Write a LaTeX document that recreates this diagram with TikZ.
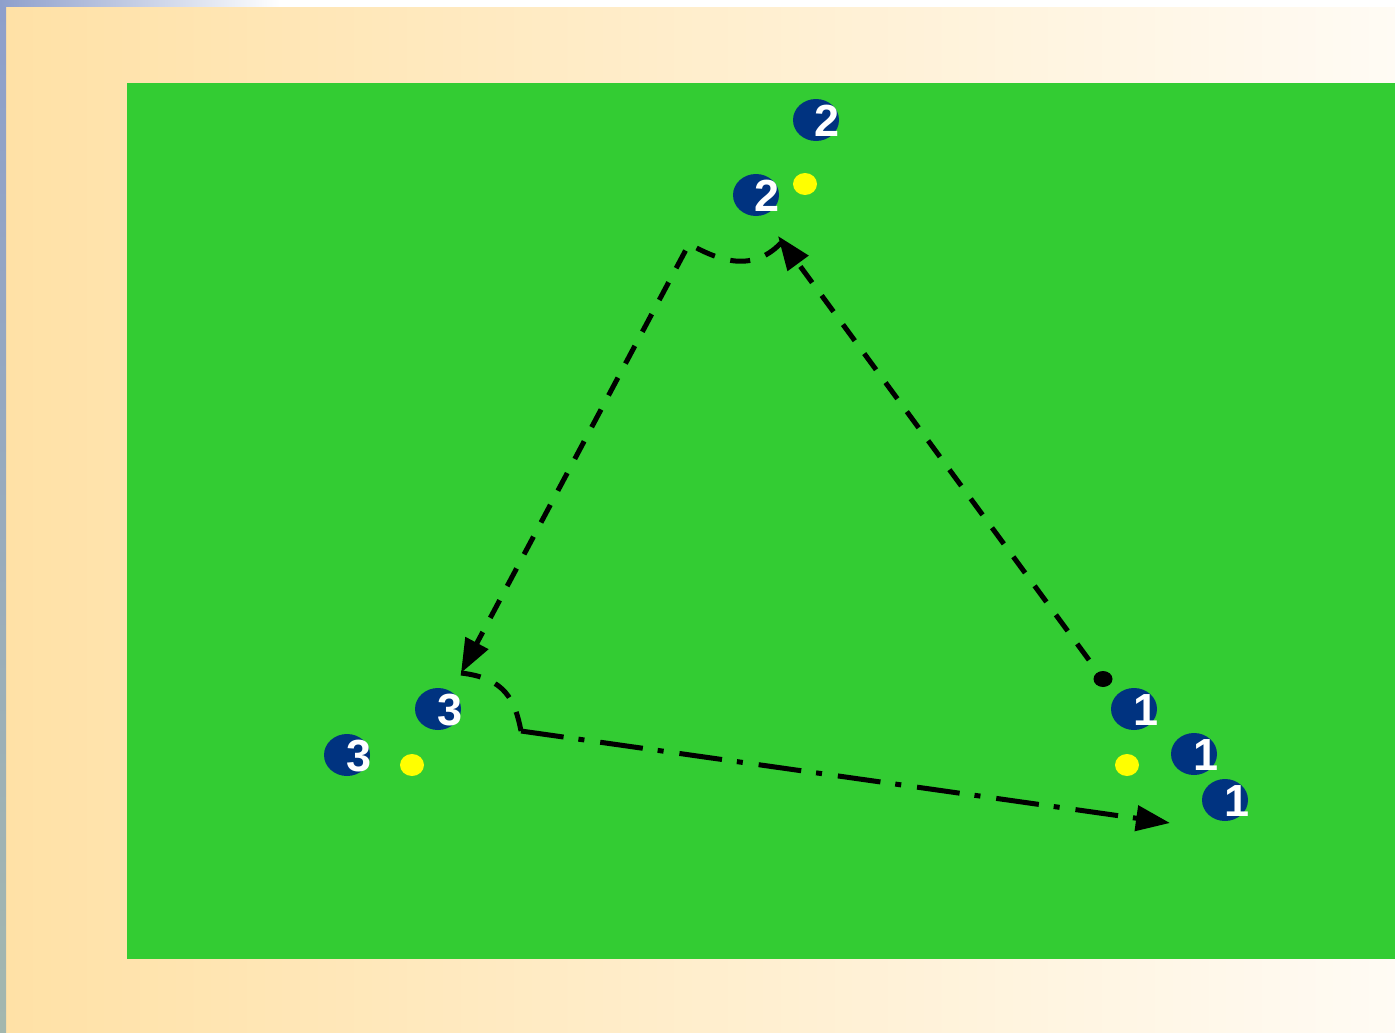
\documentclass[tikz,border=0pt]{standalone}
\usepackage{fontspec}
\setmainfont{Liberation Sans}
\usetikzlibrary{arrows.meta,shapes.geometric}
\definecolor{pitch}{HTML}{33CC33}
\definecolor{navy}{HTML}{003380}
\definecolor{ball}{HTML}{FFFF00}
\definecolor{sandL}{HTML}{FFE1A6}
\definecolor{sandR}{HTML}{FFFBF4}
\definecolor{edgeT}{HTML}{8E9FCB}
\definecolor{edgeB}{HTML}{A3B7AE}
\tikzset{
  player/.style={ellipse,fill=navy,inner sep=0pt,minimum width=46pt,minimum height=42pt},
  num/.style={text=white,font=\fontsize{45}{45}\selectfont\bfseries,inner sep=0pt},
  ballnode/.style={ellipse,fill=ball,inner sep=0pt,minimum width=24pt,minimum height=22pt},
  conedot/.style={ellipse,fill=black,inner sep=0pt,minimum width=19pt,minimum height=16pt},
  dashln/.style={line width=5pt,dash pattern=on 20pt off 16pt},
  dashdotln/.style={line width=5pt,dash pattern=on 43pt off 15pt on 6pt off 16pt},
  tip/.style={-{Triangle[length=34pt,width=25pt]}}
}
\begin{document}
\begin{tikzpicture}[x=1pt,y=-1pt]
\useasboundingbox (0,0) rectangle (1395,1033);
% background
\shade[left color=sandL,right color=sandR] (6,7) rectangle (1395,1033);
\shade[top color=edgeT,bottom color=edgeB] (0,0) rectangle (6,1033);
\fill[white] (280,0) rectangle (1395,7);
\shade[left color=edgeT,right color=white] (0,0) rectangle (280,7);
% pitch
\fill[pitch] (127,83) rectangle (1395,959);
% players
\node[player] (p2a) at (816,120) {};
\node[num] (n2a) at (827,121) {2};
\node[player] (p2b) at (756,195) {};
\node[num] (n2b) at (767,196) {2};
\node[ballnode] (b2) at (805,184) {};
\node[player] (p3a) at (438,709) {};
\node[num] (n3a) at (450,710) {3};
\node[player] (p3b) at (347,755) {};
\node[num] (n3b) at (359,756) {3};
\node[ballnode] (b3) at (412,765) {};
\node[player] (p1a) at (1134,709) {};
\node[num] (n1a) at (1146,710) {1};
\node[player] (p1b) at (1194,754) {};
\node[num] (n1b) at (1206,755) {1};
\node[player] (p1c) at (1225,800) {};
\node[num] (n1c) at (1237,801) {1};
\node[ballnode] (b1) at (1127,765) {};
\node[conedot] (dot) at (1103,679) {};
% connector points
\coordinate (s1) at (1089,660);
\coordinate (t2) at (778,236);
\coordinate (c2) at (781,243);
\coordinate (k2) at (689,244);
\coordinate (t3) at (461,673);
\coordinate (k3) at (521,731);
\coordinate (t1) at (1170,823);
% runs and passes
\draw[dashln,tip] (s1) -- (t2);
\draw[dashln,tip] (c2) .. controls (750,275) and (715,258) .. (k2) -- (t3);
\draw[dashln] (t3) .. controls (505,678) and (515,700) .. (k3);
\draw[dashdotln,tip] (k3) -- (t1);
\end{tikzpicture}
\end{document}
